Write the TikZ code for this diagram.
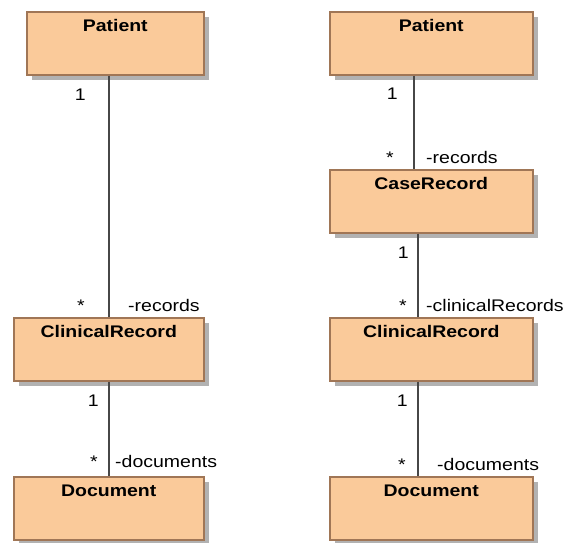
\documentclass[tikz,border=0pt]{standalone}
\usepackage{fontspec}
\setmainfont{Liberation Sans}[FakeStretch=1.16]
\usetikzlibrary{shadows}

\definecolor{classfill}{RGB}{250,202,154}
\definecolor{classborder}{RGB}{160,118,86}
\newcommand{\diafont}{\fontsize{16.8pt}{20pt}\selectfont}

\tikzset{
  umlclass/.style={draw=classborder, fill=classfill, line width=1.5pt, anchor=north west,
    minimum width=#1, inner ysep=0pt, text height=20pt, text depth=43pt,
    font=\diafont\bfseries,
    drop shadow={shadow xshift=5pt, shadow yshift=-5pt, opacity=1, fill=black!30}},
  assoc/.style={draw=black!72, line width=1.6pt},
  mult/.style={inner sep=0pt, anchor=base east, font=\diafont},
  role/.style={inner sep=0pt, anchor=base west, font=\diafont}
}

\begin{document}
\begin{tikzpicture}[x=1pt, y=-1pt]
  \useasboundingbox (0,0) rectangle (574,542);

  % left model
  \node[umlclass=177pt] (LP) at (26,11)  {Patient};
  \node[umlclass=190pt] (LC) at (13,317) {ClinicalRecord};
  \node[umlclass=190pt] (LD) at (13,476) {Document};

  \draw[assoc] (LP.south -| LC.north) -- (LC.north);
  \draw[assoc] (LC.south) -- (LD.north);

  \node[mult] (lp1) at (86,100) {1};
  \node[mult] (lc1) at (85,311) {*};
  \node[role] (lcr) at (128,311) {-records};
  \node[mult] (lc2) at (99,406) {1};
  \node[mult] (ld1) at (98,467) {*};
  \node[role] (ldr) at (115,467) {-documents};

  % right model
  \node[umlclass=203pt] (RP)  at (329,11)  {Patient};
  \node[umlclass=203pt] (RCa) at (329,169) {CaseRecord};
  \node[umlclass=203pt] (RCl) at (329,317) {ClinicalRecord};
  \node[umlclass=203pt] (RD)  at (329,476) {Document};

  \draw[assoc] ([xshift=-17.5pt]RCa.north |- RP.south) -- ([xshift=-17.5pt]RCa.north);
  \draw[assoc] ([xshift=-13.5pt]RCa.south) -- ([xshift=-13.5pt]RCl.north);
  \draw[assoc] ([xshift=-13.5pt]RCl.south) -- ([xshift=-13.5pt]RD.north);

  \node[mult] (rp1)  at (398,99)  {1};
  \node[mult] (rca1) at (394,163) {*};
  \node[role] (rcar) at (426,163) {-records};
  \node[mult] (rca2) at (409,258) {1};
  \node[mult] (rcl1) at (407,311) {*};
  \node[role] (rclr) at (426,311) {-clinicalRecords};
  \node[mult] (rcl2) at (408,406) {1};
  \node[mult] (rd1)  at (406,470) {*};
  \node[role] (rdr)  at (437,470) {-documents};

\end{tikzpicture}
\end{document}
